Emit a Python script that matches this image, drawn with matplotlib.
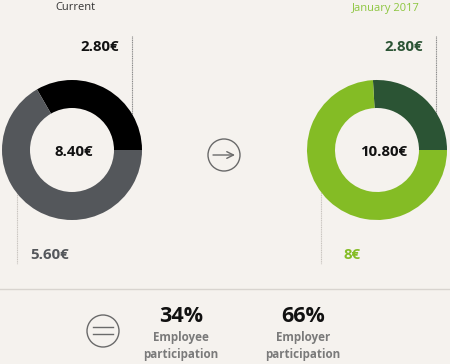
import matplotlib
matplotlib.use("Agg")
import matplotlib.pyplot as plt
from matplotlib.patches import Circle

plt.rcParams['font.family'] = ['Open Sans', 'DejaVu Sans']

# ---- data ----
titles = ["Current", "January 2017"]
employer_values = [2.80, 2.80]      # top segment
employee_values = [5.60, 8.00]      # bottom segment
total_labels = ["8.40€", "10.80€"]
top_labels = ["2.80€", "2.80€"]
bottom_labels = ["5.60€", "8€"]
share_values = ["34%", "66%"]
share_labels = ["Employee\nparticipation", "Employer\nparticipation"]

BG = "#f5f2ee"
top_colors = ["#000000", "#2b5434"]
bottom_colors = ["#54575b", "#84bc25"]
title_colors = ["#333333", "#8dc63f"]
top_text_colors = ["#111111", "#2b5434"]
bottom_text_colors = ["#54575b", "#84bc25"]

W, H = 450, 364
fig = plt.figure(figsize=(W / 100, H / 100), dpi=100, facecolor=BG)
ax = fig.add_axes([0, 0, 1, 1])
ax.set_facecolor(BG)

def Y(y):
    return H - y

centers = [(72, 150), (377, 150)]
R = 70
ring_w = 28
title_x = [75, 386]
top_line_x = [132, 436]
top_text_x = [119, 423]
bot_line_x = [17, 321]
bot_text_x = [30, 344]
total_x = [74, 384]

for i in range(2):
    cx, cy = centers[i]
    ax.plot([top_line_x[i], top_line_x[i]], [Y(36), Y(150)], color="#8a8a8a",
            lw=0.8, ls=(0, (1, 0.6)), zorder=1)
    ax.plot([bot_line_x[i], bot_line_x[i]], [Y(150), Y(264)], color="#c8c4bf",
            lw=0.8, ls=(0, (1, 0.6)), zorder=1)
    ax.pie([employer_values[i], employee_values[i]], colors=[top_colors[i], bottom_colors[i]],
           startangle=0, counterclock=True, radius=R, center=(cx, Y(cy)),
           wedgeprops=dict(width=ring_w, linewidth=0), frame=True)
    ax.text(title_x[i], Y(8), titles[i], ha="center", va="center", fontsize=8,
            color=title_colors[i])
    ax.text(top_text_x[i], Y(47), top_labels[i], ha="right", va="center", fontsize=10.8,
            fontweight="bold", color=top_text_colors[i])
    ax.text(bot_text_x[i], Y(255), bottom_labels[i], ha="left", va="center", fontsize=10.8,
            fontweight="bold", color=bottom_text_colors[i])
    ax.text(total_x[i], Y(152), total_labels[i], ha="center", va="center", fontsize=10.8,
            fontweight="bold", color="#111111")

# arrow icon
ax.add_patch(Circle((224, Y(155)), 16, fill=False, ec="#6a6a6a", lw=1.0))
ax.annotate("", xy=(235, Y(155)), xytext=(213, Y(155)),
            arrowprops=dict(arrowstyle="->", color="#6a6a6a", lw=1.0,
                            mutation_scale=12, shrinkA=0, shrinkB=0))

# separator
ax.plot([0, W], [Y(289), Y(289)], color="#d8d4cf", lw=1.0)

# equals icon
ax.add_patch(Circle((103, Y(331)), 16, fill=False, ec="#6a6a6a", lw=1.0))
ax.plot([93, 113], [Y(327), Y(327)], color="#6a6a6a", lw=1.0)
ax.plot([93, 113], [Y(334), Y(334)], color="#6a6a6a", lw=1.0)

share_x = [181, 303]
for i in range(2):
    ax.text(share_x[i], Y(316), share_values[i], ha="center", va="center", fontsize=15.5,
            fontweight="bold", color="#111111")
    ax.text(share_x[i], Y(346), share_labels[i], ha="center", va="center", fontsize=8.4,
            fontweight="bold", color="#7a7a7a", linespacing=1.35)

ax.set_xlim(0, W)
ax.set_ylim(0, H)
ax.set_aspect("equal")
ax.axis("off")

fig.savefig("out.png", dpi=100, facecolor=BG)
